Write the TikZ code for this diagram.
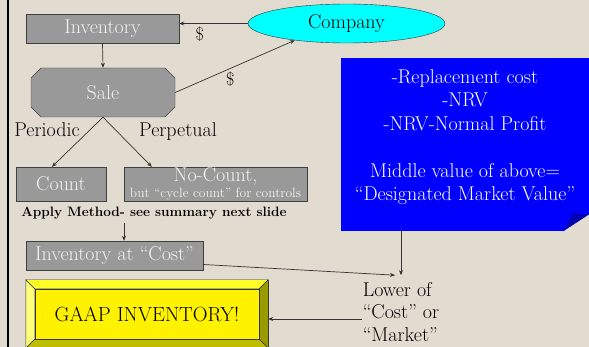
\documentclass[tikz,border=0pt]{standalone}
\usepackage{fontspec}
\usepackage{tikz}
\usetikzlibrary{arrows.meta,shapes.geometric,shapes.misc,calc}
\definecolor{slidebg}{RGB}{226,219,208}
\definecolor{boxgray}{RGB}{153,153,153}
\definecolor{boxtext}{RGB}{242,242,242}
\definecolor{compcyan}{RGB}{0,255,255}
\definecolor{mktblue}{RGB}{0,0,255}
\definecolor{foldblue}{RGB}{0,0,175}
\definecolor{bevlight}{RGB}{255,255,120}
\definecolor{bevtop}{RGB}{255,255,40}
\definecolor{bevdark}{RGB}{153,153,0}
\definecolor{bevmid}{RGB}{190,190,0}
\begin{document}
\begin{tikzpicture}[x=1pt,y=-1pt,
  every node/.style={font=\fontsize{20}{23.5}\selectfont},
  graybox/.style={rectangle, draw=black!75, fill=boxgray, text=boxtext, inner sep=0pt},
  dollar/.style={font=\fontsize{18}{20}\selectfont},
  link/.style={draw=black!80, line width=0.7pt, -{Stealth[length=5pt,width=4pt]}}]
  \useasboundingbox (0,0) rectangle (589,347);
  \clip (0,0) rectangle (589,347);
  \fill[slidebg] (0,0) rectangle (589,347);
  \draw[line width=2.5pt] (8,0) -- (8,347);

  \node[graybox, minimum width=153pt, minimum height=29pt] (inv) at (102.5,28.5) {Inventory};
  \node[ellipse, draw=black!80, fill=compcyan, minimum width=197pt, minimum height=39pt, inner sep=0pt] (comp) at (346.5,23.5) {Company};
  \node[chamfered rectangle, chamfered rectangle angle=45, chamfered rectangle xsep=12pt,
    draw=black!75, fill=boxgray, text=boxtext, minimum width=144pt, minimum height=49pt, inner sep=0pt] (sale) at (103,92.5) {Sale};
  \node (periodic) at (47,130) {Periodic};
  \node (perpetual) at (178,132) {Perpetual};
  \node[graybox, minimum width=90pt, minimum height=34pt] (count) at (61,184) {Count};
  \node[graybox, minimum width=183pt, minimum height=34pt, align=center] (nocount) at (215.5,184)
    {No-Count,\\[-7pt]{\fontsize{13.5}{14}\selectfont but “cycle count” for controls}};
  \node[font=\bfseries\fontsize{13.6}{16}\selectfont] (apply) at (154,213) {Apply Method- see summary next slide};
  \node[graybox, minimum width=177pt, minimum height=29pt] (invcost) at (114.5,255.5) {Inventory at “Cost”};

  \node[rectangle, fill=mktblue, minimum width=248pt, minimum height=173pt, inner sep=0pt] (mkt) at (465,144.5) {};
  \fill[slidebg] ($(mkt.south east)+(-26,0)$) -- (mkt.south east) -- ($(mkt.south east)+(0,-17)$) -- cycle;
  \fill[foldblue] ($(mkt.south east)+(-26,0)$) -- ($(mkt.south east)+(-16,-18)$) -- ($(mkt.south east)+(0,-17)$) -- cycle;
  \node[text=white, align=center] (mkttext) at (465,137)
    {-Replacement cost\\-NRV\\-NRV-Normal Profit\\[23.5pt]Middle value of above=\\“Designated Market Value”};

  \node[align=left, inner xsep=1pt, inner ysep=7pt, font=\fontsize{20}{22.5}\selectfont] (lower) at (401,312) {Lower of\\“Cost” or\\“Market”};

  \node[draw=black!80, fill=yellow, minimum width=242pt, minimum height=68pt, inner sep=0pt] (gaap) at (147,314) {};
  \coordinate (gi1) at ($(gaap.north west)+(9,9)$);
  \coordinate (gi2) at ($(gaap.north east)+(-9,9)$);
  \coordinate (gi3) at ($(gaap.south east)+(-9,-9)$);
  \coordinate (gi4) at ($(gaap.south west)+(9,-9)$);
  \filldraw[fill=bevlight, draw=black!80] (gaap.north west) -- (gi1) -- (gi4) -- (gaap.south west) -- cycle;
  \filldraw[fill=bevtop, draw=black!80] (gaap.north west) -- (gaap.north east) -- (gi2) -- (gi1) -- cycle;
  \filldraw[fill=bevdark, draw=black!80] (gaap.north east) -- (gaap.south east) -- (gi3) -- (gi2) -- cycle;
  \filldraw[fill=bevmid, draw=black!80] (gaap.south west) -- (gaap.south east) -- (gi3) -- (gi4) -- cycle;
  \filldraw[fill=yellow, draw=black!80] (gi1) rectangle (gi3);
  \node[font=\fontsize{20.5}{22}\selectfont] (gaaptext) at ($(gi1)!0.5!(gi3)$) {GAAP INVENTORY!};

  \draw[link] (comp.west) -- (comp.west -| inv.east) node[dollar, pos=0.7, below] {\$};
  \draw[link] (sale.east) -- (comp.198) node[dollar, pos=0.46, below] {\$};
  \draw[link] (inv.south) -- (sale.north);
  \draw[link] (sale.south) -- ([xshift=-9pt]count.north);
  \draw[link] (sale.south) -- ([xshift=28pt]nocount.north west);
  \draw[link] ([xshift=-30pt]apply.south) -- ([xshift=-30pt]apply.south |- invcost.north);
  \draw[link] ([yshift=-9pt]invcost.east) -- ([xshift=-6pt]lower.north);
  \draw[link] (lower.north |- mkt.south) -- (lower.north);
  \draw[link] ([yshift=-7pt]lower.west) -- ([yshift=-7pt]lower.west -| gaap.east);
\end{tikzpicture}
\end{document}
